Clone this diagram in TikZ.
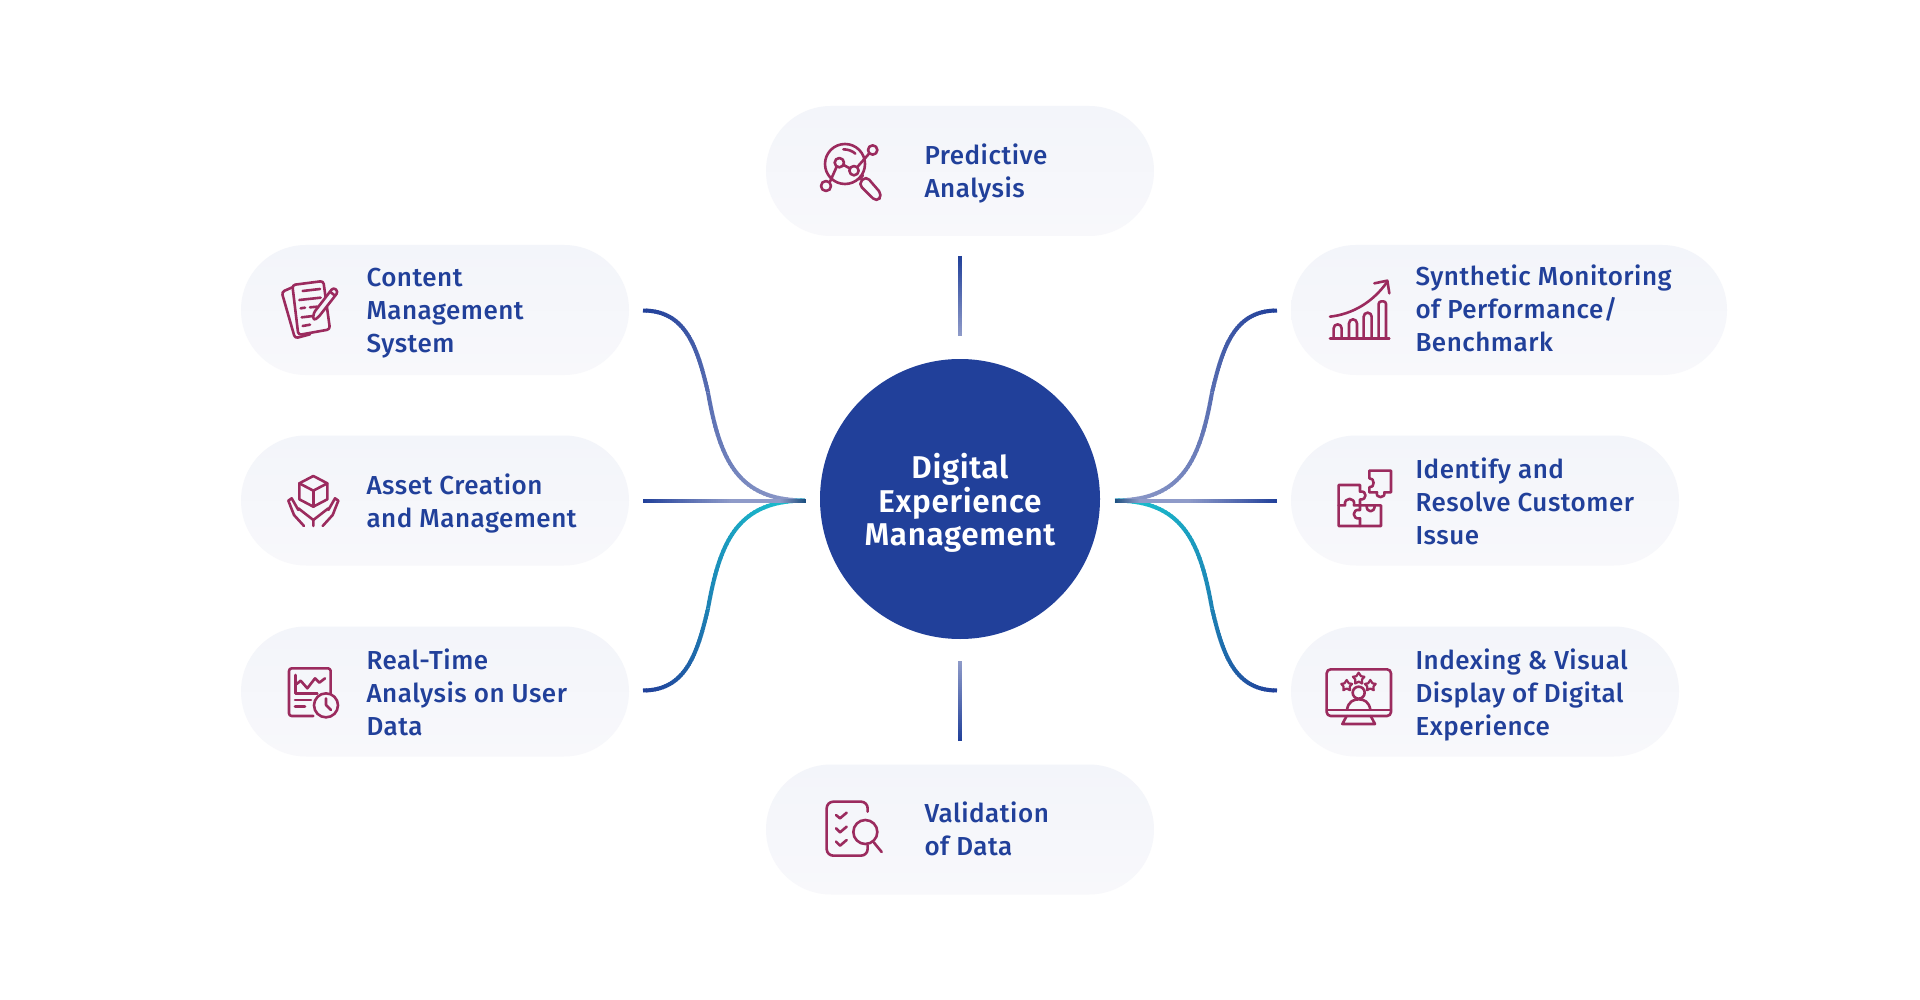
\documentclass[tikz,border=0pt]{standalone}
\usepackage{fontspec}
\setmainfont{Fira Sans}[UprightFont={* Medium},BoldFont={* SemiBold},LetterSpace=2]
\definecolor{navy}{HTML}{21409A}
\definecolor{lite}{HTML}{8F9BC9}
\definecolor{teal}{HTML}{19C3CF}
\definecolor{tipc}{HTML}{1B4E7F}
\definecolor{plum}{HTML}{9B2B5E}
\definecolor{pilltop}{HTML}{F3F5FA}
\definecolor{pillbot}{HTML}{F8F8FB}
\tikzset{
  pill/.style={rectangle,rounded corners=65pt,inner sep=0pt,minimum height=130pt,top color=pilltop,bottom color=pillbot,draw=none},
  hubnode/.style={circle,inner sep=0pt,minimum size=280pt,fill=navy,draw=none},
  lbl/.style={anchor=north west,inner sep=0pt,align=left,text=navy,xshift=-0.7pt,font=\fontsize{26}{33}\selectfont},
  hubtext/.style={anchor=north,inner sep=0pt,align=center,text=white,font=\bfseries\fontsize{31.5}{33.5}\selectfont},
  ico/.style={draw=plum,line width=2.6pt,line cap=round,line join=round},
  tiny/.style={x=0.33333pt,y=-0.33333pt}
}
\newcommand\tstrut{\rule{0pt}{20.5pt}}
\newcommand\gradcurve[8]{%
  \foreach \i in {1,...,40}{%
    \pgfmathsetmacro\ta{(\i-1)/40}%
    \pgfmathsetmacro\tb{min(1,(\i+0.4)/40)}%
    \pgfmathsetmacro\pc{100-(#7+(#8-#7)*(\i-0.5)/40)}%
    \begin{pgfscope}\pgfsetlinewidth{4pt}\pgfsetstrokecolor{#5!\pc!#6}%
    \pgfpathmoveto{\pgfpointcurveattime{\ta}{\pgfpointanchor{#1}{center}}{\pgfpointanchor{#2}{center}}{\pgfpointanchor{#3}{center}}{\pgfpointanchor{#4}{center}}}%
    \pgfpathlineto{\pgfpointcurveattime{\tb}{\pgfpointanchor{#1}{center}}{\pgfpointanchor{#2}{center}}{\pgfpointanchor{#3}{center}}{\pgfpointanchor{#4}{center}}}%
    \pgfusepath{stroke}\end{pgfscope}%
  }}
\newcommand\gradline[6]{%
  \foreach \i in {1,...,40}{%
    \pgfmathsetmacro\ta{(\i-1)/40}%
    \pgfmathsetmacro\tb{min(1,(\i+0.4)/40)}%
    \pgfmathsetmacro\pc{100-(#5+(#6-#5)*(\i-0.5)/40)}%
    \begin{pgfscope}\pgfsetlinewidth{4pt}\pgfsetstrokecolor{#3!\pc!#4}%
    \pgfpathmoveto{\pgfpointlineattime{\ta}{\pgfpointanchor{#1}{center}}{\pgfpointanchor{#2}{center}}}%
    \pgfpathlineto{\pgfpointlineattime{\tb}{\pgfpointanchor{#1}{center}}{\pgfpointanchor{#2}{center}}}%
    \pgfusepath{stroke}\end{pgfscope}%
  }}
\newcommand\sconn[4]{%
  \coordinate (#1a) at ({960+(#2)*(-317)},{500.5+(#3)*(-190)});
  \coordinate (#1b) at ({960+(#2)*(-275)},{500.5+(#3)*(-190)});
  \coordinate (#1c) at ({960+(#2)*(-263)},{500.5+(#3)*(-155)});
  \coordinate (#1d) at ({960+(#2)*(-252)},{500.5+(#3)*(-108)});
  \coordinate (#1e) at ({960+(#2)*(-240)},{500.5+(#3)*(-40)});
  \coordinate (#1f) at ({960+(#2)*(-222)},{500.5+(#3)*(0)});
  \coordinate (#1g) at ({960+(#2)*(-155)},{500.5+(#3)*(0)});
  \gradcurve{#1a}{#1b}{#1c}{#1d}{navy}{#4}{0}{50}
  \gradcurve{#1d}{#1e}{#1f}{#1g}{navy}{#4}{50}{100}
}
\newcommand\starpath[3]{%
  \draw[ico,line width=2.2pt] (#1+0,#2-#3)
  -- (#1+0.38*#3,#2-0.42*#3*1.0) -- (#1+0.95*#3,#2-0.31*#3) -- (#1+0.55*#3,#2+0.15*#3)
  -- (#1+0.59*#3,#2+0.81*#3) -- (#1+0,#2+0.5*#3) -- (#1-0.59*#3,#2+0.81*#3)
  -- (#1-0.55*#3,#2+0.15*#3) -- (#1-0.95*#3,#2-0.31*#3) -- (#1-0.38*#3,#2-0.42*#3) -- cycle;}
\begin{document}
\begin{tikzpicture}[x=1pt,y=-1pt]
\useasboundingbox (0,0) rectangle (1920,1000);
\fill[white] (0,0) rectangle (1920,1000);
% pills
\node[pill,minimum width=388pt] (pPred) at (960,171) {};
\node[pill,minimum width=388pt] (pVal) at (960,829.5) {};
\node[pill,minimum width=388pt] (pCms) at (435,310) {};
\node[pill,minimum width=388pt] (pAsset) at (435,500.5) {};
\node[pill,minimum width=388pt] (pReal) at (435,691.5) {};
\node[pill,minimum width=436pt] (pSyn) at (1509,310) {};
\node[pill,minimum width=388pt] (pIdent) at (1485,500.5) {};
\node[pill,minimum width=388pt] (pIndex) at (1485,691.5) {};
\node[hubnode] (hub) at (960,499) {};
\node[hubtext] (hubt) at (960,453.3) {\tstrut Digital\\Experience\\Management};
% labels
\node[lbl] (tPred) at (925,144) {\tstrut Predictive\\Analysis};
\node[lbl] (tVal) at (925,802) {\tstrut Validation\\of Data};
\node[lbl] (tCms) at (367,266) {\tstrut Content\\Management\\System};
\node[lbl] (tAsset) at (367,474) {\tstrut Asset Creation\\and Management};
\node[lbl] (tReal) at (367,649) {\tstrut Real-Time\\Analysis on User\\Data};
\node[lbl] (tSyn) at (1416,265) {\tstrut Synthetic Monitoring\\of Performance/\\Benchmark};
\node[lbl] (tIdent) at (1416,458) {\tstrut Identify and\\Resolve Customer\\Issue};
\node[lbl] (tIndex) at (1416,649) {\tstrut Indexing \& Visual\\Display of Digital\\Experience};
% connectors
\sconn{lt}{1}{1}{lite}
\sconn{lb}{1}{-1}{teal}
\sconn{rt}{-1}{1}{lite}
\sconn{rb}{-1}{-1}{teal}
\coordinate (ml) at (643,500.5); \coordinate (mlk) at (731,500.5); \coordinate (mlm) at (780,500.5); \coordinate (mli) at (805.5,500.5);
\coordinate (mr) at (1277,500.5); \coordinate (mrk) at (1189,500.5); \coordinate (mrm) at (1140,500.5); \coordinate (mri) at (1114.5,500.5);
\gradline{ml}{mlk}{navy}{lite}{0}{100}
\gradline{mlk}{mlm}{lite}{lite}{0}{100}
\gradline{mlm}{mli}{lite}{tipc}{0}{100}
\gradline{mr}{mrk}{navy}{lite}{0}{100}
\gradline{mrk}{mrm}{lite}{lite}{0}{100}
\gradline{mrm}{mri}{lite}{tipc}{0}{100}
\coordinate (vt1) at (960,256); \coordinate (vt2) at (960,336);
\coordinate (vb1) at (960,741); \coordinate (vb2) at (960,661);
\gradline{vt1}{vt2}{navy}{lite}{0}{100}
\gradline{vb1}{vb2}{navy}{lite}{0}{100}
% icon: predictive
\begin{scope}[shift={(760,90)},tiny]
\draw[ico] (255,222) circle (60);
\draw[ico] (250,178) .. controls (265,178) and (277,183) .. (286,191);
\draw[ico] (338,180) circle (14);
\draw[ico] (198,288) circle (15);
\draw[ico] (238,218) circle (14);
\draw[ico] (282,242) circle (14);
\draw[ico] (210,275) -- (230,230);
\draw[ico] (251,225) -- (269,235);
\draw[ico] (292,231) -- (328,190);
\draw[ico] (298,268) -- (309,256);
\draw[ico,rounded corners=5pt] (318,258) -- (367,315) -- (350,336) -- (295,282) -- cycle;
\end{scope}
% icon: content
\begin{scope}[shift={(230,230)},tiny]
\draw[ico,rounded corners=3pt] (187,172) -- (155,186) -- (195,325) -- (240,313);
\draw[ico,rounded corners=3pt] (187,165) -- (280,153) -- (300,298) -- (205,315) -- cycle;
\draw[ico] (218,183) -- (270,177);
\draw[ico] (208,210) -- (272,203);
\draw[ico] (212,235) -- (225,233);
\draw[ico] (240,232) -- (262,230);
\draw[ico] (215,262) -- (250,258);
\draw[ico] (218,288) -- (240,284);
\draw[ico,fill=pilltop,rounded corners=3pt] (310,172) -- (325,185) -- (265,262) -- (250,272) -- (250,250) -- cycle;
\draw[ico] (300,185) -- (315,197);
\end{scope}
% icon: asset
\begin{scope}[shift={(230,230)},tiny]
\draw[ico] (250,738) -- (292,760) -- (292,808) -- (250,830) -- (208,808) -- (208,760) -- cycle;
\draw[ico] (208,760) -- (250,782) -- (292,760);
\draw[ico] (250,782) -- (250,830);
\draw[ico] (222,888) -- (192,855) -- (175,812) -- (185,805) -- (205,840);
\draw[ico] (205,835) -- (250,870) -- (250,888);
\draw[ico] (278,888) -- (308,855) -- (325,812) -- (315,805) -- (295,840);
\draw[ico] (295,835) -- (250,870);
\end{scope}
% icon: real-time
\begin{scope}[shift={(230,610)},tiny]
\draw[ico] (250,318) -- (185,318) arc (90:180:8) -- (177,183) arc (180:270:8) -- (294,175) arc (-90:0:8) -- (302,250);
\draw[ico] (197,195) -- (197,250) -- (262,250);
\draw[ico] (200,222) -- (212,212) -- (232,235) -- (255,205) -- (268,218) -- (285,205);
\draw[ico] (195,270) -- (243,270);
\draw[ico] (195,290) -- (225,290);
\draw[ico] (288,286) circle (36);
\draw[ico] (288,265) -- (288,285) -- (303,300);
\end{scope}
% icon: synthetic
\begin{scope}[shift={(1280,230)},tiny]
\draw[ico] (150,326) -- (328,326);
\draw[ico] (161,326) -- (161,295) arc (180:360:12) -- (185,326);
\draw[ico] (207,326) -- (207,280) arc (180:360:12) -- (231,326);
\draw[ico] (251,326) -- (251,260) arc (180:360:12) -- (275,326);
\draw[ico] (296,326) -- (296,222) arc (180:270:8) -- (310,214) arc (270:360:8) -- (318,326);
\draw[ico] (150,260) .. controls (220,252) and (280,215) .. (322,155);
\draw[ico] (283,160) -- (322,152) -- (328,190);
\end{scope}
% icon: puzzle
\begin{scope}[shift={(1280,230)},tiny]
\draw[ico] (268,745) -- (268,722) -- (333,722) -- (333,787) -- (313,787) .. controls (318,806) and (285,806) .. (291,787) -- (268,787) -- (268,772) .. controls (285,775) and (285,742) .. (268,745);
\draw[ico] (176,765) -- (240,765) -- (240,785) .. controls (262,780) and (262,812) .. (240,808) -- (240,826) -- (303,826) -- (303,888) -- (176,888) -- cycle;
\draw[ico] (176,826) -- (195,826) .. controls (190,800) and (228,800) .. (222,826) -- (240,826) -- (240,840) .. controls (215,835) and (215,870) .. (240,865) -- (240,888);
\draw[ico] (260,826) .. controls (258,850) and (285,850) .. (284,826);
\end{scope}
% icon: indexing
\begin{scope}[shift={(1280,610)},tiny]
\draw[ico,rounded corners=4pt] (140,178) rectangle (333,318);
\draw[ico] (140,300) -- (333,300);
\draw[ico] (200,318) -- (187,342) -- (285,342) -- (272,318);
\draw[ico] (236,248) circle (18);
\draw[ico] (201,299) .. controls (205,275) and (220,268) .. (236,268) .. controls (252,268) and (267,275) .. (271,299);
\starpath{236}{206}{18}
\starpath{200}{227}{17}
\starpath{271}{227}{17}
\end{scope}
% icon: validation
\begin{scope}[shift={(760,650)},tiny]
\draw[ico] (323,485) -- (323,475) arc (0:-90:20) -- (220,455) arc (-90:-180:20) -- (200,597) arc (180:90:20) -- (303,617) arc (90:0:20) -- (323,585);
\draw[ico] (228,495) -- (240,505) -- (260,488);
\draw[ico] (228,535) -- (240,547) -- (260,530);
\draw[ico] (228,575) -- (240,587) -- (260,570);
\draw[ico] (316,546) circle (36);
\draw[ico] (342,578) -- (365,606);
\end{scope}
\end{tikzpicture}
\end{document}
